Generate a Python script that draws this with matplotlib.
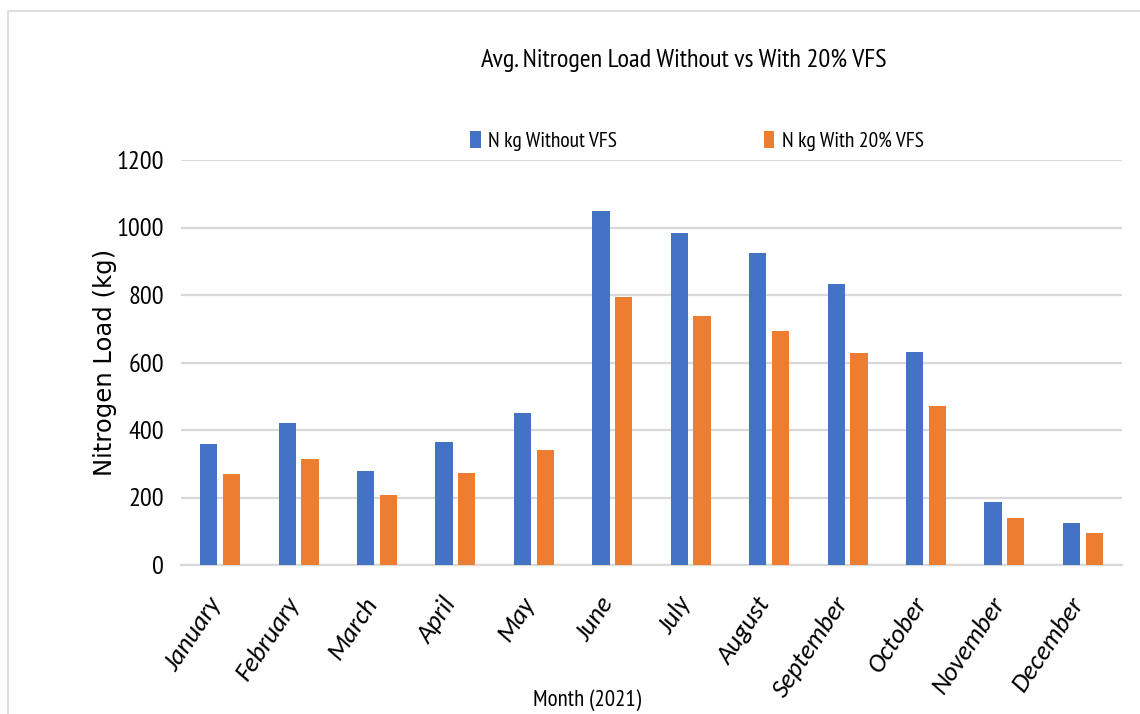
import numpy as np
import matplotlib
matplotlib.use("Agg")
import matplotlib.pyplot as plt
import matplotlib.transforms as mtransforms
from matplotlib.patches import Rectangle

months = ["January", "February", "March", "April", "May", "June",
          "July", "August", "September", "October", "November", "December"]
n_without = [359, 420, 279, 365, 451, 1050, 985, 924, 833, 632, 188, 123]
n_with = [270, 314, 208, 274, 342, 793, 738, 693, 627, 470, 138, 94]
series_labels = ["N kg Without VFS", "N kg With 20% VFS"]
y_ticks = [0, 200, 400, 600, 800, 1000, 1200]

BLUE = "#4472C4"
ORANGE = "#ED7D31"
GRID = "#D9D9D9"
NARROW = ["PT Sans Narrow", "DejaVu Sans"]
ITALIC = ["Carlito", "DejaVu Sans"]

fig = plt.figure(figsize=(11.4, 7.14), dpi=100)
W, H = 1140, 714
ax = fig.add_axes([181 / W, 1 - 565 / H, (1122 - 181) / W, (565 - 160) / H])

x = np.arange(len(months))
width = 0.22
off = 0.145
ax.bar(x - off, n_without, width, color=BLUE, label=series_labels[0], zorder=3)
ax.bar(x + off, n_with, width, color=ORANGE, label=series_labels[1], zorder=3)

ax.set_xlim(-0.5, len(months) - 0.5)
ax.set_ylim(0, 1200)
ax.set_yticks(y_ticks)
ax.set_yticklabels([str(t) for t in y_ticks], family=NARROW, fontsize=19)
ax.grid(axis="y", color=GRID, linewidth=1.6, zorder=0)
for s in ["top", "right", "left"]:
    ax.spines[s].set_visible(False)
ax.spines["bottom"].set_color(GRID)
ax.spines["bottom"].set_linewidth(1.6)
ax.tick_params(axis="both", length=0)
ax.tick_params(axis="y", pad=12)

ax.set_xticks(x)
ax.set_xticklabels(months, rotation=56, ha="right", rotation_mode="anchor",
                   family=ITALIC, fontsize=19, style="italic")
ax.tick_params(axis="x", pad=20)
shift = mtransforms.ScaledTranslation(-14 / 100, 0, fig.dpi_scale_trans)
for lbl in ax.get_xticklabels():
    lbl.set_transform(lbl.get_transform() + shift)

ax.set_ylabel("Nitrogen Load (kg)", fontsize=17.5, family="DejaVu Sans",
              labelpad=0)

fig.text(587 / W, 1 - 700 / H, "Month (2021)", ha="center", va="center",
         family=NARROW, fontsize=16.5)
fig.text(684 / W, 1 - 60 / H, "Avg. Nitrogen Load Without vs With 20% VFS",
         ha="center", va="center", family=NARROW, fontsize=19)

leg = ax.legend(loc="center", bbox_to_anchor=((697 - 181) / 941, (565 - 141) / 405),
                ncol=2, frameon=False, prop={"family": NARROW, "size": 15.5},
                handlelength=0.5, handleheight=0.85, handletextpad=0.35,
                columnspacing=6.8)

# thin frame around the chart area
fig.patches.append(Rectangle((8 / W, -0.1), 1.2, 1 - 11 / H + 0.1,
                             transform=fig.transFigure, fill=False,
                             edgecolor="#D9D9D9", linewidth=1.2))

fig.savefig("out.png", dpi=100)
